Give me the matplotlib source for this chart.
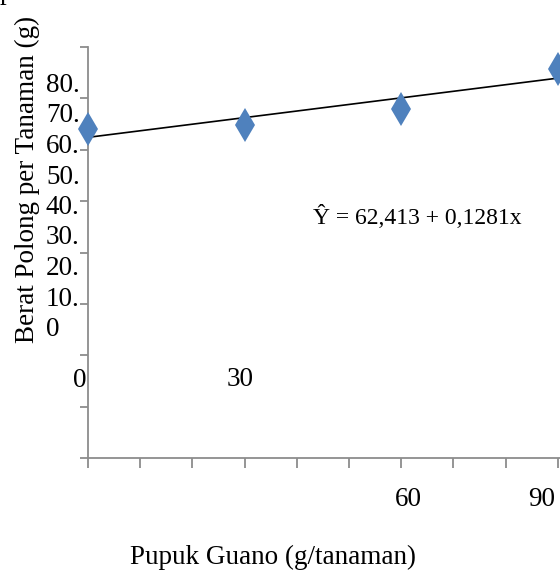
import matplotlib
matplotlib.use("Agg")
import matplotlib.pyplot as plt
import numpy as np
from matplotlib.transforms import Affine2D

# ---- data ----
dose = [0, 30, 60, 90]                 # Pupuk Guano (g/tanaman)
weight = [64.1, 64.8, 68.0, 75.8]       # Berat Polong per Tanaman (g)
intercept = 62.413
slope = 0.1281
y_tick_labels = ["80.", "70.", "60.", "50.", "40.", "30.", "20.", "10.", "0"]
x_tick_labels = ["0", "30", "60", "90"]
equation = "Ŷ = 62,413 + 0,1281x"
x_title = "Pupuk Guano (g/tanaman)"
y_title = "Berat Polong per Tanaman (g)"

W, H = 560, 572
plt.rcParams['font.family'] = ['Liberation Serif', 'DejaVu Serif']
fig = plt.figure(figsize=(W / 100, H / 100), dpi=100)

# pixel transform (origin top-left)
pxT = Affine2D().scale(1.0 / W, -1.0 / H).translate(0, 1) + fig.transFigure

ax = fig.add_axes([88 / W, (H - 458) / H, 1 - 88 / W, (458 - 47) / H])
ax.set_xlim(0, 90.4)
ax.set_ylim(0, 80)

grey = "#8c8c8c"
for s in ["top", "right"]:
    ax.spines[s].set_visible(False)
for s in ["left", "bottom"]:
    ax.spines[s].set_color(grey)
    ax.spines[s].set_linewidth(1.3)

ax.set_xticks(np.arange(0, 91, 10))
ax.set_yticks(np.arange(0, 81, 10))
ax.tick_params(axis="x", direction="out", length=7, width=1.3, color=grey, labelbottom=False)
ax.tick_params(axis="y", direction="out", length=6, width=1.3, color=grey, labelleft=False)

# trend line
xl = np.array([0, 90])
ax.plot(xl, intercept + slope * xl, color="black", lw=1.2, zorder=2, clip_on=False)
# points
ax.plot(dose, weight, linestyle="none", marker="d", markersize=17,
        color="#4F81BD", markeredgewidth=0, zorder=3, clip_on=False)

fs = 19.5
# y tick labels (stacked, as in reference)
for i, lab in enumerate(y_tick_labels):
    fig.text(46, 92 + 30.5 * i, lab, transform=pxT, fontsize=fs,
             ha="left", va="baseline")

# x tick labels (displaced, as in reference)
xpos = [(87, 387, "right"), (240, 386, "center"), (408, 506, "center"), (542, 506, "center")]
for lab, (x, y, ha) in zip(x_tick_labels, xpos):
    fig.text(x, y, lab, transform=pxT, fontsize=fs, ha=ha, va="baseline")

# titles
fig.text(273, 564, x_title, transform=pxT, fontsize=fs, ha="center", va="baseline")
fig.text(27, 179, y_title, transform=pxT, fontsize=fs, ha="center", va="center", rotation=90)

# equation
fig.text(313, 224, equation, transform=pxT, fontsize=17, ha="left", va="baseline")

# fragment at top-left
fig.text(0, -1, "p", transform=pxT, fontsize=fs, ha="left", va="baseline")

fig.savefig("out.png", dpi=100)
